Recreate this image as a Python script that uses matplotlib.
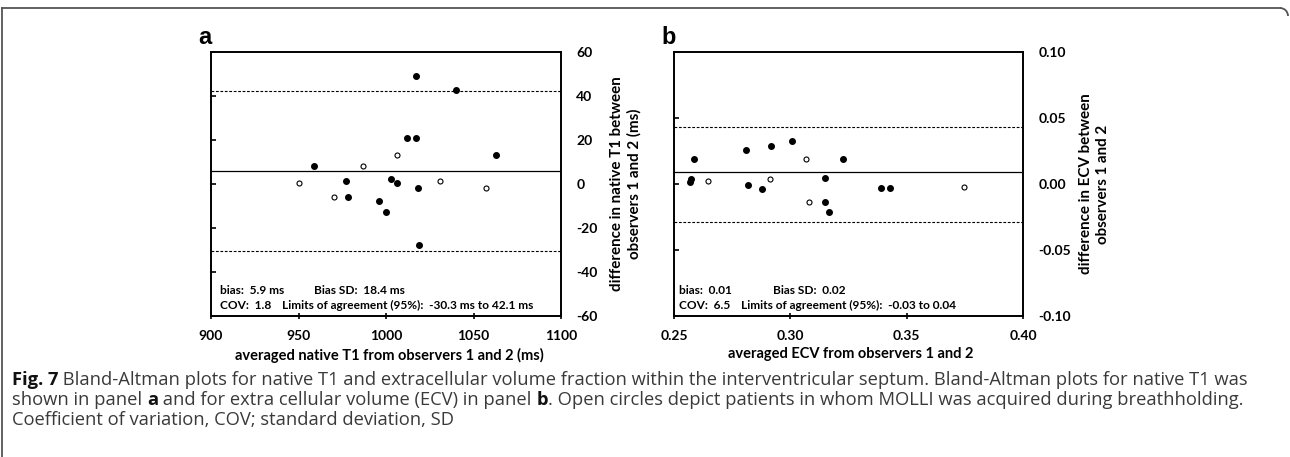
import numpy as np
import matplotlib
matplotlib.use("Agg")
import matplotlib.pyplot as plt
from matplotlib.lines import Line2D
from matplotlib.patches import Arc

plt.rcParams['font.family'] = ['Lato', 'DejaVu Sans']

# panel a: native T1 (ms)
t1_mean_filled = [1017, 1040, 1012, 1017, 1063, 959, 977, 1003, 1006, 1018, 978, 996, 1000, 1019]
t1_diff_filled = [49.0, 42.7, 21.0, 21.0, 13.2, 8.2, 1.2, 2.3, 0.3, -1.7, -5.8, -7.7, -12.7, -27.6]
t1_mean_open = [1006, 987, 950, 1031, 1057, 970.5]
t1_diff_open = [13.2, 8.2, 0.3, 1.2, -1.7, -5.8]
t1_bias, t1_upper, t1_lower = 5.9, 42.1, -30.3

# panel b: ECV
ecv_mean_filled = [0.2585, 0.2811, 0.2917, 0.3007, 0.3228, 0.2575, 0.2570, 0.2817, 0.2880,
                   0.3151, 0.3388, 0.3427, 0.3149, 0.3168]
ecv_diff_filled = [0.0192, 0.0258, 0.0288, 0.0328, 0.0189, 0.0036, 0.0018, -0.0010, -0.0035,
                   0.0045, -0.0028, -0.0028, -0.0134, -0.0212]
ecv_mean_open = [0.3069, 0.2646, 0.2914, 0.3745, 0.3079]
ecv_diff_open = [0.0189, 0.0020, 0.0036, -0.0025, -0.0134]
ecv_bias, ecv_upper, ecv_lower = 0.009, 0.043, -0.029

W, H = 1290, 457
fig = plt.figure(figsize=(W / 100, H / 100), dpi=100)


def px_box(l, r, t, b):
    return [l / W, 1 - b / H, (r - l) / W, (b - t) / H]


def panel(ax, xm_f, yd_f, xm_o, yd_o, bias, up, lo, xlim, ylim, xt, yt, xfmt, yfmt,
          xlabel, xlab_x, ylabel, ylab_x, stats, sx):
    ax.axhline(bias, color='black', lw=0.9, zorder=1)
    ax.axhline(up, color='black', lw=0.8, ls=(0, (2.5, 1.5)), zorder=1)
    ax.axhline(lo, color='black', lw=0.8, ls=(0, (2.5, 1.5)), zorder=1)
    ax.plot(xm_f, yd_f, 'o', color='black', ms=4, zorder=3)
    ax.plot(xm_o, yd_o, 'o', mfc='white', mec='black', mew=0.8, ms=3.6, zorder=3)
    ax.set_xlim(*xlim)
    ax.set_ylim(*ylim)
    ax.set_xticks(xt)
    ax.set_xticklabels([xfmt.format(v) for v in xt])
    ax.set_yticks(yt)
    ax.set_yticklabels([yfmt.format(v) for v in yt])
    for s in ax.spines.values():
        s.set_linewidth(1.4)
    ax.tick_params(axis='y', left=True, right=False, labelleft=False, labelright=True,
                   direction='in', length=3.5, width=1.2, pad=11, labelsize=10)
    ax.tick_params(axis='x', direction='inout', length=4, width=1.2, pad=8, labelsize=10)
    for lab in ax.get_xticklabels() + ax.get_yticklabels():
        lab.set_fontweight('bold')
    ax.set_xlabel(xlabel, fontsize=10.5, fontweight='bold', labelpad=4)
    ax.xaxis.label.set_x(xlab_x)
    ax.text(ylab_x, 0.5, ylabel, transform=ax.transAxes, rotation=90, ha='center',
            va='center', multialignment='center', fontsize=10.9, fontweight='bold',
            linespacing=1.3)
    x0, x1, x2 = sx
    kw = dict(transform=ax.transAxes, fontsize=8.6, fontweight='bold', va='center')
    ax.text(x0, 0.098, stats[0], **kw)
    ax.text(x1, 0.098, stats[1], **kw)
    ax.text(x0, 0.038, stats[2], **kw)
    ax.text(x2, 0.038, stats[3], **kw)


ax1 = fig.add_axes(px_box(211, 561, 52, 316))
panel(ax1, t1_mean_filled, t1_diff_filled, t1_mean_open, t1_diff_open,
      t1_bias, t1_upper, t1_lower, (900, 1100), (-60, 60),
      [900, 950, 1000, 1050, 1100], [-60, -40, -20, 0, 20, 40, 60], '{:d}', '{:d}',
      'averaged native T1 from observers 1 and 2 (ms)', 0.511,
      'difference in native T1 between\nobservers 1 and 2 (ms)', 1.185,
      ['bias:  5.9 ms', 'Bias SD:  18.4 ms', 'COV:  1.8',
       'Limits of agreement (95%):  -30.3 ms to 42.1 ms'], (0.026, 0.294, 0.203))

ax2 = fig.add_axes(px_box(674, 1023, 52, 316))
panel(ax2, ecv_mean_filled, ecv_diff_filled, ecv_mean_open, ecv_diff_open,
      ecv_bias, ecv_upper, ecv_lower, (0.25, 0.40), (-0.10, 0.10),
      [0.25, 0.30, 0.35, 0.40], [-0.10, -0.05, 0.0, 0.05, 0.10], '{:.2f}', '{:.2f}',
      'averaged ECV from observers 1 and 2', 0.505,
      'difference in ECV between\nobservers 1 and 2', 1.205,
      ['bias:  0.01', 'Bias SD:  0.02', 'COV:  6.5',
       'Limits of agreement (95%):  -0.03 to 0.04'], (0.013, 0.283, 0.191))

fig.text(205 / W, 1 - 37 / H, 'a', fontsize=17, fontweight='bold', ha='center', va='center',
         family=['Liberation Sans', 'DejaVu Sans'])
fig.text(669 / W, 1 - 37 / H, 'b', fontsize=17, fontweight='bold', ha='center', va='center',
         family=['Liberation Sans', 'DejaVu Sans'])

# frame round the figure
bc = '#555555'
fig.add_artist(Line2D([2 / W, 1280 / W], [1 - 8 / H, 1 - 8 / H], color=bc, lw=1.3))
fig.add_artist(Line2D([2 / W, 2 / W], [0, 1 - 8 / H], color=bc, lw=1.3))
fig.add_artist(Arc((1280 / W, 1 - 16 / H), 16 / W, 16 / H, theta1=0, theta2=90, color=bc, lw=1.3))

# caption
cap = fig.add_axes([0, 0, 1, 1])
cap.axis('off')
cfam = ['Open Sans', 'DejaVu Sans']
ccol = '#3a3a3a'
fs = 13.2


def line(parts, y):
    prev = None
    for txt, bold in parts:
        kw = dict(fontsize=fs, color=ccol if not bold else '#111111', family=cfam,
                  fontweight='bold' if bold else 'normal', va='baseline', ha='left')
        if prev is None:
            prev = cap.text(12 / W, 1 - y / H, txt, transform=fig.transFigure, **kw)
        else:
            prev = cap.annotate(txt, xy=(1, 0), xycoords=prev, xytext=(0, 0),
                                textcoords='offset points', **kw)
            prev.set_va('bottom')


line([('Fig. 7', True), (' Bland-Altman plots for native T1 and extracellular volume fraction within the '
      'interventricular septum. Bland-Altman plots for native T1 was', False)], 385)
line([('shown in panel ', False), ('a', True), (' and for extra cellular volume (ECV) in panel ', False),
      ('b', True), ('. Open circles depict patients in whom MOLLI was acquired during breathholding.', False)], 405)
line([('Coefficient of variation, COV; standard deviation, SD', False)], 425)

fig.savefig('out.png', dpi=100)
